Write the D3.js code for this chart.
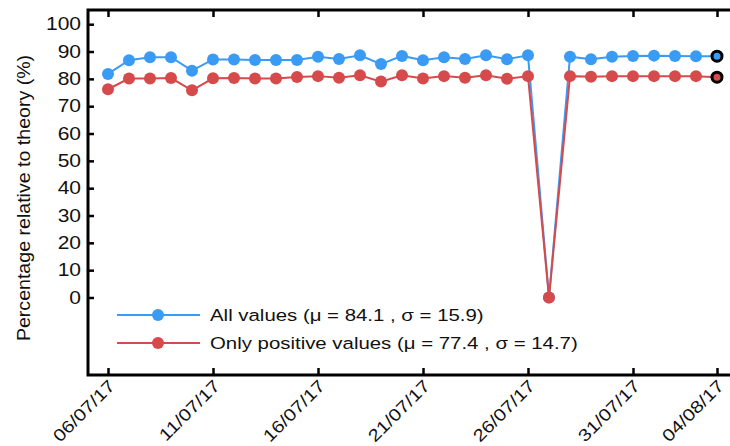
<!DOCTYPE html>
<html>
<head>
<meta charset="utf-8">
<script src="https://cdn.jsdelivr.net/npm/d3@7/dist/d3.min.js"></script>
<style>
body { margin: 0; background: #fff; }
text { font-family: "Liberation Sans", Arial, Helvetica, sans-serif; fill: #111; }
</style>
</head>
<body>
<div id="chart"></div>
<script>
// Data
var days = ["06/07/17", "07/07/17", "08/07/17", "09/07/17", "10/07/17", "11/07/17",
	"12/07/17", "13/07/17", "14/07/17", "15/07/17", "16/07/17", "17/07/17",
	"18/07/17", "19/07/17", "20/07/17", "21/07/17", "22/07/17", "23/07/17",
	"24/07/17", "25/07/17", "26/07/17", "27/07/17", "28/07/17", "29/07/17",
	"30/07/17", "31/07/17", "01/08/17", "02/08/17", "03/08/17", "04/08/17"];
var allValues = [81.8, 86.8, 87.9, 87.9, 83.0, 87.1, 87.1, 86.9, 86.9, 86.9,
	88.1, 87.3, 88.6, 85.4, 88.4, 86.8, 87.9, 87.3, 88.6, 87.2,
	88.6, 0, 88.1, 87.2, 88.1, 88.4, 88.5, 88.4, 88.3, 88.3];
var positiveValues = [76.2, 80.1, 80.1, 80.3, 75.8, 80.2, 80.3, 80.1, 80.1, 80.7,
	81.0, 80.4, 81.3, 79.0, 81.3, 80.1, 81.0, 80.4, 81.3, 80.0,
	81.0, 0, 81.0, 80.8, 81.0, 81.0, 81.0, 81.0, 81.0, 80.6];
var xTickLabels = ["06/07/17", "11/07/17", "16/07/17", "21/07/17", "26/07/17", "31/07/17", "04/08/17"];
var yTicks = [0, 10, 20, 30, 40, 50, 60, 70, 80, 90, 100];
var seriesNames = ["All values (\u03bc = 84.1 , \u03c3 = 15.9)", "Only positive values (\u03bc = 77.4 , \u03c3 = 14.7)"];
var seriesColors = ["#3a9bf4", "#d64a4b"];

var width = 730,
	height = 446,
	stretch = 1.2; // the glyphs in the picture are wide

var parse = d3.timeParse("%d/%m/%y");

var svg = d3.select("#chart")
	.append("svg")
	.attr("width", width)
	.attr("height", height);

var x = d3.scaleTime()
	.domain([parse(days[0]), parse(days[days.length - 1])])
	.range([108, 717]);

var y = d3.scaleLinear()
	.domain([0, 100])
	.range([297.5, 24.2]);

var frameLeft = 88, frameTop = 10, frameBottom = 375;

// axes (ticks point inward)
var xTickDates = xTickLabels.map(parse);

function noDomain(g) { g.select(".domain").remove(); }

svg.append("g")
	.attr("transform", "translate(0," + frameBottom + ")")
	.call(d3.axisBottom(x).tickValues(xTickDates).tickSize(-7).tickSizeOuter(0).tickFormat(""))
	.call(noDomain)
	.selectAll("line").attr("stroke", "#000").attr("stroke-width", 2.5);

svg.append("g")
	.attr("transform", "translate(0," + frameTop + ")")
	.call(d3.axisTop(x).tickValues(xTickDates).tickSize(-7).tickSizeOuter(0).tickFormat(""))
	.call(noDomain)
	.selectAll("line").attr("stroke", "#000").attr("stroke-width", 2.5);

svg.append("g")
	.attr("transform", "translate(" + frameLeft + ",0)")
	.call(d3.axisLeft(y).tickValues(yTicks).tickSize(-6).tickSizeOuter(0).tickFormat(""))
	.call(noDomain)
	.selectAll("line").attr("stroke", "#000").attr("stroke-width", 2.5);

// frame
svg.append("path")
	.attr("d", "M" + width + "," + frameTop + "H" + frameLeft + "V" + frameBottom + "H" + width)
	.attr("fill", "none")
	.attr("stroke", "#000")
	.attr("stroke-width", 3);

// y tick labels
svg.append("g").selectAll("text")
	.data(yTicks)
	.enter().append("text")
	.attr("transform", function(d) { return "translate(81," + (y(d) + 6) + ") scale(" + stretch + ",1)"; })
	.attr("text-anchor", "end")
	.attr("font-size", 17.5)
	.text(function(d) { return d; });

// x tick labels
svg.append("g").selectAll("text")
	.data(xTickLabels)
	.enter().append("text")
	.attr("transform", function(d) { return "translate(" + (x(parse(d)) + 8) + ",387) rotate(-45) scale(" + stretch + ",1)"; })
	.attr("text-anchor", "end")
	.attr("font-size", 17)
	.text(function(d) { return d; });

// y title
svg.append("text")
	.attr("transform", "translate(30,198) rotate(-90) scale(1.12,1)")
	.attr("text-anchor", "middle")
	.attr("font-size", 17.5)
	.text("Percentage relative to theory (%)");

// series
var line = d3.line()
	.x(function(d, i) { return x(parse(days[i])); })
	.y(function(d) { return y(d); });

[allValues, positiveValues].forEach(function(values, k) {
	var g = svg.append("g");
	g.append("path")
		.datum(values)
		.attr("d", line)
		.attr("fill", "none")
		.attr("stroke", seriesColors[k])
		.attr("stroke-width", 2);
	g.selectAll("circle")
		.data(values)
		.enter().append("circle")
		.attr("cx", function(d, i) { return x(parse(days[i])); })
		.attr("cy", function(d) { return y(d); })
		.attr("r", function(d, i) { return i === values.length - 1 ? 5 : 6; })
		.attr("fill", seriesColors[k])
		.attr("stroke", function(d, i) { return i === values.length - 1 ? "#000" : "none"; })
		.attr("stroke-width", 3);
});

// legend
var legend = svg.append("g");
seriesNames.forEach(function(name, k) {
	var ly = 315 + k * 28;
	legend.append("line")
		.attr("x1", 117).attr("x2", 200)
		.attr("y1", ly).attr("y2", ly)
		.attr("stroke", seriesColors[k])
		.attr("stroke-width", 2);
	legend.append("circle")
		.attr("cx", 158).attr("cy", ly).attr("r", 6)
		.attr("fill", seriesColors[k]);
	legend.append("text")
		.attr("transform", "translate(210," + (ly + 6) + ") scale(" + stretch + ",1)")
		.attr("font-size", 17)
		.text(name);
});
</script>
</body>
</html>
